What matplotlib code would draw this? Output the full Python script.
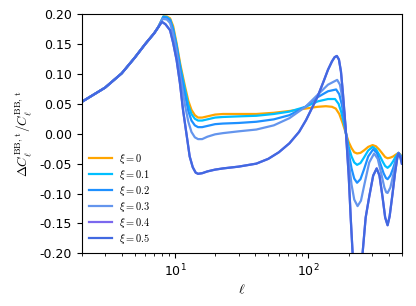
import matplotlib
matplotlib.use("Agg")
import matplotlib.pyplot as plt

plt.rcParams['mathtext.fontset'] = 'cm'

# multipole values and curves
ell_low = [2, 3, 4, 5, 6, 7, 7.5]
common_low = [0.053, 0.077, 0.101, 0.127, 0.150, 0.168, 0.178]

ell_0 = [8.2, 8.7, 9.2, 9.7, 10.3, 11, 11.9, 12.6, 13.3, 14.1, 14.9, 16, 17.5, 20, 22.9, 30, 40.7, 55, 72, 95, 117, 135, 150, 160, 170, 180, 191, 200, 210, 220, 231, 245, 260, 280, 302, 320, 340, 360, 375, 391, 410, 430, 450, 472, 488, 500]
xi_0 = [0.196, 0.196, 0.193, 0.180, 0.151, 0.115, 0.079, 0.055, 0.040, 0.031, 0.027, 0.027, 0.029, 0.032, 0.033, 0.033, 0.033, 0.035, 0.038, 0.042, 0.045, 0.046, 0.045, 0.042, 0.033, 0.018, 0.000, -0.014, -0.024, -0.031, -0.033, -0.032, -0.028, -0.022, -0.019, -0.021, -0.027, -0.034, -0.039, -0.041, -0.040, -0.038, -0.035, -0.032, -0.035, -0.040]

ell_1 = [8.2, 8.7, 9.2, 9.7, 10.3, 11, 11.9, 12.6, 13.3, 14.1, 14.9, 16, 17.5, 20, 22.9, 30, 40.7, 55, 72, 95, 117, 140, 158, 168, 176, 184, 191, 200, 210, 220, 231, 245, 260, 280, 302, 320, 340, 360, 375, 391, 410, 430, 450, 472, 488, 500]
xi_1 = [0.196, 0.195, 0.191, 0.176, 0.148, 0.111, 0.074, 0.048, 0.033, 0.025, 0.022, 0.022, 0.024, 0.027, 0.028, 0.029, 0.030, 0.033, 0.037, 0.045, 0.054, 0.058, 0.058, 0.050, 0.036, 0.018, 0.000, -0.022, -0.038, -0.048, -0.052, -0.049, -0.040, -0.028, -0.022, -0.026, -0.036, -0.047, -0.054, -0.057, -0.053, -0.046, -0.038, -0.032, -0.036, -0.042]

ell_2 = [8.2, 8.7, 9.2, 9.7, 10.3, 11, 11.9, 12.6, 13.3, 14.1, 14.9, 16, 17.5, 20, 22.9, 30, 40.7, 55, 72, 95, 117, 140, 161, 170, 178, 185, 191, 200, 210, 220, 231, 245, 260, 280, 305, 325, 345, 365, 380, 391, 410, 430, 450, 472, 488, 500]
xi_2 = [0.195, 0.194, 0.190, 0.173, 0.145, 0.105, 0.065, 0.038, 0.022, 0.014, 0.011, 0.011, 0.013, 0.016, 0.017, 0.018, 0.020, 0.024, 0.031, 0.045, 0.061, 0.071, 0.074, 0.066, 0.048, 0.024, 0.000, -0.032, -0.058, -0.075, -0.082, -0.076, -0.060, -0.038, -0.026, -0.032, -0.050, -0.066, -0.074, -0.076, -0.070, -0.058, -0.044, -0.032, -0.037, -0.044]

ell_3 = [8.1, 8.7, 9.2, 9.7, 10.3, 11, 11.9, 12.6, 13.3, 14.1, 14.9, 16, 17.5, 20, 22.9, 30, 40.7, 55, 72, 95, 117, 140, 164, 172, 180, 186, 191, 200, 210, 220, 233, 247, 262, 285, 310, 330, 350, 370, 382, 391, 410, 430, 450, 472, 488, 500]
xi_3 = [0.192, 0.191, 0.185, 0.167, 0.138, 0.095, 0.048, 0.020, 0.003, -0.006, -0.009, -0.009, -0.005, -0.001, 0.001, 0.004, 0.007, 0.014, 0.026, 0.045, 0.065, 0.082, 0.090, 0.082, 0.058, 0.030, 0.000, -0.045, -0.085, -0.110, -0.121, -0.112, -0.085, -0.048, -0.033, -0.042, -0.066, -0.090, -0.098, -0.099, -0.090, -0.070, -0.048, -0.032, -0.038, -0.046]

ell_5 = [8.0, 8.5, 9.2, 9.7, 10.3, 10.9, 11.5, 12.2, 12.9, 13.6, 14.3, 14.9, 16, 17.5, 20, 22.9, 30, 40.7, 50, 60, 72, 85, 96, 117, 130, 140, 150, 157, 163, 169, 175, 181, 186, 191, 200, 207, 214, 225, 235, 245, 254, 268, 285, 305, 324, 340, 358, 375, 391, 405, 426, 445, 464, 472, 488, 500]
xi_5 = [0.187, 0.183, 0.173, 0.152, 0.123, 0.085, 0.040, 0.000, -0.038, -0.056, -0.065, -0.067, -0.066, -0.063, -0.060, -0.058, -0.055, -0.050, -0.042, -0.031, -0.016, 0.003, 0.023, 0.062, 0.088, 0.107, 0.121, 0.128, 0.130, 0.124, 0.104, 0.068, 0.034, 0.000, -0.070, -0.140, -0.200, -0.260, -0.270, -0.250, -0.200, -0.140, -0.105, -0.070, -0.058, -0.070, -0.105, -0.140, -0.153, -0.138, -0.100, -0.065, -0.038, -0.033, -0.040, -0.050]

ell_4 = list(ell_5)
xi_4 = list(xi_5)

labels = [r'$\xi=0$', r'$\xi=0.1$', r'$\xi=0.2$', r'$\xi=0.3$', r'$\xi=0.4$', r'$\xi=0.5$']
colors = ['orange', 'deepskyblue', 'dodgerblue', 'cornflowerblue', 'mediumslateblue', 'royalblue']

series = [(ell_0, xi_0), (ell_1, xi_1), (ell_2, xi_2), (ell_3, xi_3), (ell_4, xi_4), (ell_5, xi_5)]

fig = plt.figure(figsize=(4.16, 3.06), dpi=100)
ax = fig.add_axes([0.196, 0.172, 0.770, 0.782])

for (l, v), lab, c in zip(series, labels, colors):
    ax.plot(ell_low + l, common_low + v, color=c, lw=1.6, label=lab)

ax.set_xscale('log')
ax.set_xlim(2, 500)
ax.set_ylim(-0.2, 0.2)
ax.set_yticks([-0.20, -0.15, -0.10, -0.05, 0.00, 0.05, 0.10, 0.15, 0.20])
ax.yaxis.set_major_formatter(matplotlib.ticker.FormatStrFormatter('%.2f'))
ax.tick_params(labelsize=9)
ax.set_xlabel(r'$\ell$', fontsize=10, labelpad=2)
ax.set_ylabel(r'$\Delta C_\ell^{\rm BB,\,t}/C_\ell^{\rm BB,\,t}$', fontsize=9.5)

ax.legend(loc='lower left', frameon=False, fontsize=7.5, handlelength=2.2,
          handletextpad=0.7, labelspacing=0.2, borderaxespad=0.3)

fig.savefig('out.png', dpi=100)
